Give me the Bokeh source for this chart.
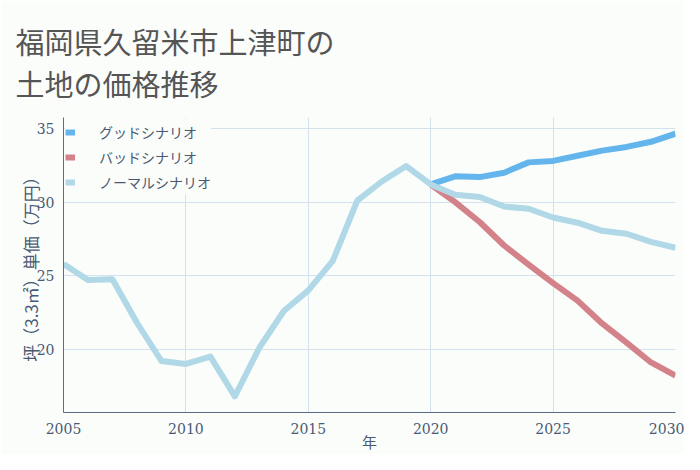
from bokeh.plotting import figure
from bokeh.models import Range1d, FixedTicker, Legend, LegendItem
from bokeh.embed import file_html
from bokeh.resources import INLINE

years_all = list(range(2005, 2031))
normal = [25.8, 24.7, 24.75, 21.8, 19.2, 19.0, 19.5, 16.8, 20.1, 22.6, 24.0, 26.0,
          30.1, 31.4, 32.45, 31.2, 30.5, 30.35, 29.7, 29.55, 28.95, 28.6, 28.05, 27.85, 27.3, 26.9]
years_future = list(range(2020, 2031))
good = [31.2, 31.75, 31.7, 32.0, 32.7, 32.8, 33.15, 33.5, 33.75, 34.1, 34.65]
bad = [31.2, 30.0, 28.65, 27.05, 25.75, 24.5, 23.3, 21.75, 20.45, 19.1, 18.2]

labels = ["グッドシナリオ", "バッドシナリオ", "ノーマルシナリオ"]
colors = ["#64b5ec", "#d4828a", "#b0d8e6"]
x_ticks = [2005, 2010, 2015, 2020, 2025, 2030]
y_ticks = [20, 25, 30, 35]

BG = "#fbfdfb"
CJK = "Noto Sans CJK JP"

p = figure(width=684, height=454, output_backend="svg", toolbar_location=None,
           x_range=Range1d(2005, 2030), y_range=Range1d(15.7, 35.75),
           min_border_left=63, min_border_right=9, min_border_top=117, min_border_bottom=39,
           background_fill_color=BG, border_fill_color=BG)
p.outline_line_color = None

p.title.text = "福岡県久留米市上津町の\n土地の価格推移"
p.title.text_font = CJK
p.title.text_font_size = "29px"
p.title.text_font_style = "normal"
p.title.text_color = "#555555"
p.title.text_line_height = 1.0
p.title.vertical_align = "top"
p.title.offset = -48
p.title.standoff = 24

p.xaxis.ticker = FixedTicker(ticks=x_ticks)
p.yaxis.ticker = FixedTicker(ticks=y_ticks)
for ax in (p.xaxis[0], p.yaxis[0]):
    ax.axis_line_color = "#5b6e88"
    ax.axis_line_width = 1
    ax.major_tick_line_color = None
    ax.minor_tick_line_color = None
    ax.major_label_text_font = "DejaVu Serif"
    ax.major_label_text_font_size = "14px"
    ax.major_label_text_color = "#4a5a72"
    ax.axis_label_text_font = CJK
    ax.axis_label_text_font_style = "normal"
    ax.axis_label_text_color = "#4a5a72"
p.xaxis.axis_label = "年"
p.yaxis.axis_label = "坪（3.3㎡）単価（万円）"
p.xaxis.axis_label_text_font_size = "15px"
p.yaxis.axis_label_text_font_size = "17px"
p.xaxis.major_label_standoff = 4
p.yaxis.major_label_standoff = 3
p.xaxis.axis_label_standoff = -6
p.yaxis.axis_label_standoff = -9

p.xgrid.grid_line_color = "#d3e2ee"
p.ygrid.grid_line_color = "#d3e2ee"
p.xgrid.ticker = FixedTicker(ticks=x_ticks)
p.ygrid.ticker = FixedTicker(ticks=y_ticks)

r_good = p.line(years_future, good, line_color=colors[0], line_width=6, line_join="round")
r_bad = p.line(years_future, bad, line_color=colors[1], line_width=6, line_join="round")
r_norm = p.line(years_all, normal, line_color=colors[2], line_width=6, line_join="round")

items = [LegendItem(label=lab, renderers=[r]) for lab, r in zip(labels, [r_good, r_bad, r_norm])]
legend = Legend(items=items, location="top_left", orientation="vertical",
                label_text_font=CJK, label_text_font_size="14px", label_text_color="#4a5a72",
                glyph_width=10, glyph_height=20, label_standoff=24, label_height=25,
                spacing=0, padding=0, margin=2,
                background_fill_color=BG, background_fill_alpha=1.0,
                border_line_alpha=0)
p.add_layout(legend)

open("out.html", "w").write(file_html(p, INLINE))
